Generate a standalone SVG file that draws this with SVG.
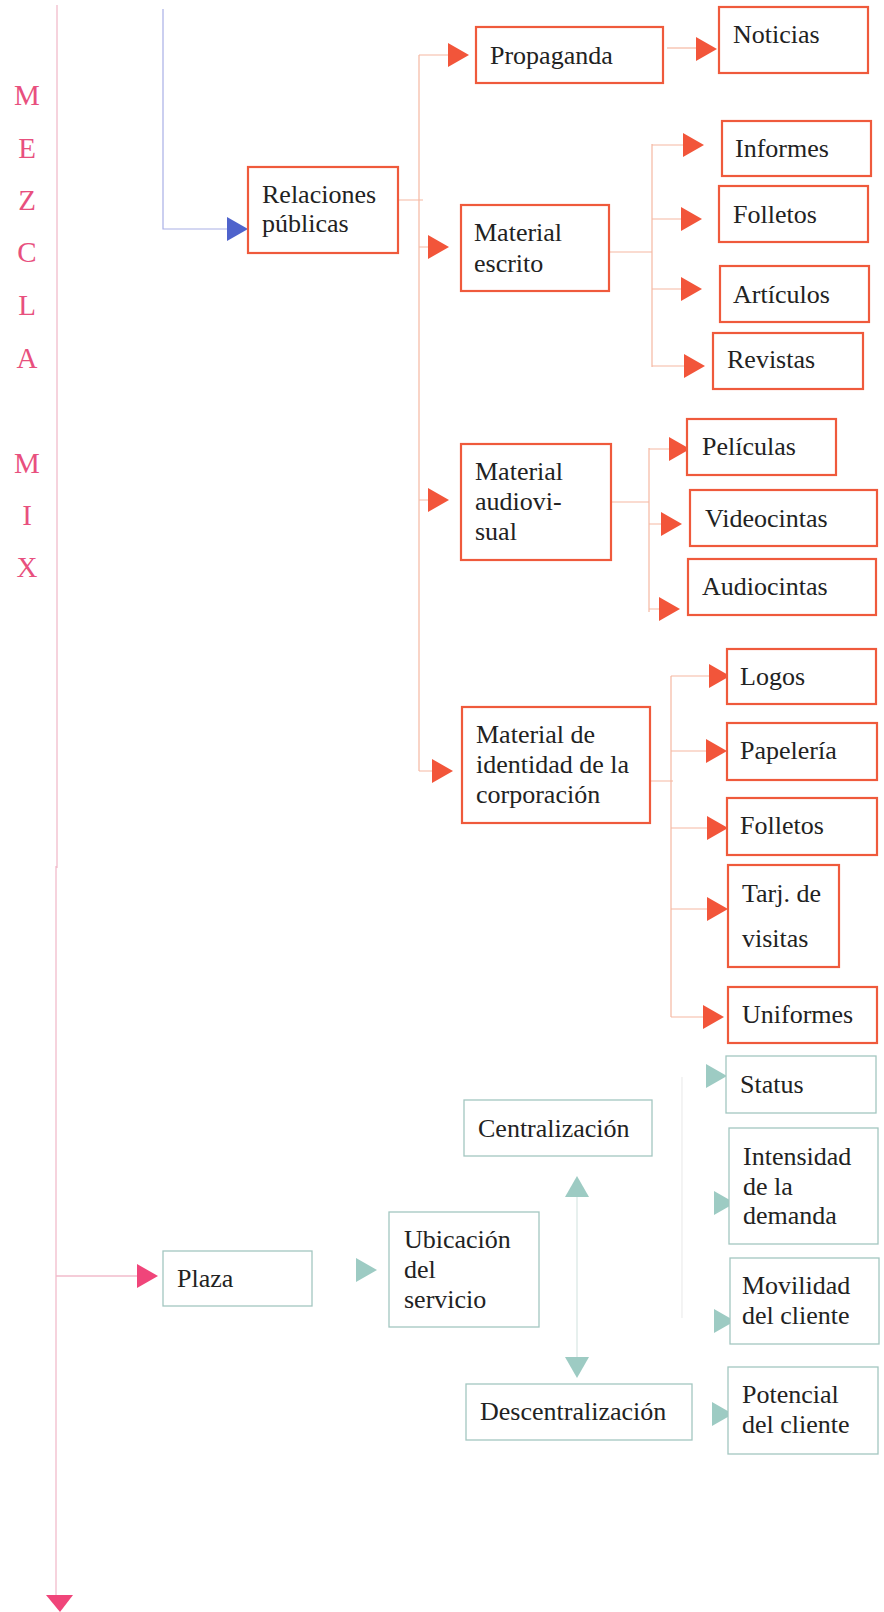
<svg xmlns="http://www.w3.org/2000/svg" width="884" height="1612" viewBox="0 0 884 1612">
  <style>
    text { font-family: "Liberation Serif", "Times New Roman", serif; font-size: 26px; fill: #222222; }
    .mix { fill: #e8507e; font-size: 29px; text-anchor: middle; }
    .red rect { fill: #ffffff; stroke: #ef5a3c; stroke-width: 2.2; }
    .teal rect { fill: #ffffff; stroke: #a3c7c1; stroke-width: 1.3; }
    .ln-red { stroke: #f5b8a2; stroke-width: 1.2; fill: none; }
    .ln-blue { stroke: #a9b0e6; stroke-width: 1.2; fill: none; }
    .ln-pink { stroke: #f2bccb; stroke-width: 1.3; fill: none; }
    .ln-teal { stroke: #d7e6e3; stroke-width: 1.2; fill: none; }
    .ln-gray { stroke: #ececec; stroke-width: 1.2; fill: none; }
    .ah-red { fill: #f2553a; }
    .ah-blue { fill: #4f63cc; }
    .ah-pink { fill: #f0457a; }
    .ah-teal { fill: #9dcbc3; }
  </style>
  <defs>
    <!-- arrowhead with its tip at the origin, pointing right -->
    <path id="tri" d="M-21,-12 L0,0 L-21,12 Z"/>
  </defs>

  <rect x="0" y="0" width="884" height="1612" fill="#ffffff"/>

  <!-- vertical title -->
  <g id="title">
    <text class="mix" x="27" y="105">M</text>
    <text class="mix" x="27" y="158">E</text>
    <text class="mix" x="27" y="210">Z</text>
    <text class="mix" x="27" y="262">C</text>
    <text class="mix" x="27" y="315">L</text>
    <text class="mix" x="27" y="368">A</text>
    <text class="mix" x="27" y="473">M</text>
    <text class="mix" x="27" y="525">I</text>
    <text class="mix" x="27" y="577">X</text>
  </g>

  <!-- connectors -->
  <g id="connectors">
    <!-- main axis -->
    <path class="ln-pink" d="M57,5 V868 M56,866 V1598 M56,1276 H140"/>
    <polygon class="ah-pink" points="46,1595 73,1595 60,1612"/>
    <use href="#tri" class="ah-pink" x="158" y="1276"/>

    <!-- entry into Relaciones públicas -->
    <path class="ln-blue" d="M163,9 V229 H230"/>
    <use href="#tri" class="ah-blue" x="248" y="229"/>

    <!-- Relaciones públicas branches -->
    <path class="ln-red" d="M398,200 H423 M419,55 V771 M419,55 H450 M419,247 H430 M419,500 H430 M419,771 H435"/>
    <use href="#tri" class="ah-red" x="469" y="55"/>
    <use href="#tri" class="ah-red" x="449" y="247"/>
    <use href="#tri" class="ah-red" x="449" y="500"/>
    <use href="#tri" class="ah-red" x="453" y="771"/>

    <!-- Propaganda -> Noticias -->
    <path class="ln-red" d="M667,48 H699"/>
    <use href="#tri" class="ah-red" x="717" y="49"/>

    <!-- Material escrito -->
    <path class="ln-red" d="M609,252 H652 M652,144 V367 M652,145 H685 M652,219 H684 M652,289 H684 M652,366 H687"/>
    <use href="#tri" class="ah-red" x="704" y="145"/>
    <use href="#tri" class="ah-red" x="702" y="219"/>
    <use href="#tri" class="ah-red" x="702" y="289"/>
    <use href="#tri" class="ah-red" x="705" y="366"/>

    <!-- Material audiovisual -->
    <path class="ln-red" d="M611,502 H649 M649,448 V612 M649,449 H673 M649,524 H663 M649,609 H661"/>
    <use href="#tri" class="ah-red" x="690" y="449"/>
    <use href="#tri" class="ah-red" x="682" y="524"/>
    <use href="#tri" class="ah-red" x="680" y="609"/>

    <!-- Material de identidad de la corporación -->
    <path class="ln-red" d="M650,781 H673 M671,676 V1017 M671,676 H713 M671,751 H709 M671,828 H711 M671,909 H709 M671,1017 H705"/>
    <use href="#tri" class="ah-red" x="730" y="676"/>
    <use href="#tri" class="ah-red" x="727" y="751"/>
    <use href="#tri" class="ah-red" x="728" y="828"/>
    <use href="#tri" class="ah-red" x="728" y="909"/>
    <use href="#tri" class="ah-red" x="724" y="1017"/>

    <!-- Plaza section -->
    <use href="#tri" class="ah-teal" x="377" y="1270"/>
    <path class="ln-teal" d="M577,1192 V1361"/>
    <use href="#tri" class="ah-teal" transform="translate(577,1176) rotate(-90)"/>
    <use href="#tri" class="ah-teal" transform="translate(577,1378) rotate(90)"/>
    <path class="ln-gray" d="M682,1077 V1318"/>
    <use href="#tri" class="ah-teal" x="727" y="1076"/>
    <use href="#tri" class="ah-teal" x="735" y="1203"/>
    <use href="#tri" class="ah-teal" x="735" y="1321"/>
    <use href="#tri" class="ah-teal" x="733" y="1414"/>
  </g>

  <!-- red nodes -->
  <g id="relaciones" class="red"><rect x="248" y="167" width="150" height="86"/><text x="262" y="203">Relaciones</text><text x="262" y="232">públicas</text></g>
  <g id="propaganda" class="red"><rect x="476" y="27" width="187" height="56"/><text x="490" y="64">Propaganda</text></g>
  <g id="noticias" class="red"><rect x="719" y="7" width="149" height="66"/><text x="733" y="43">Noticias</text></g>
  <g id="material-escrito" class="red"><rect x="461" y="205" width="148" height="86"/><text x="474" y="241">Material</text><text x="474" y="272">escrito</text></g>
  <g id="informes" class="red"><rect x="722" y="121" width="149" height="55"/><text x="735" y="157">Informes</text></g>
  <g id="folletos-1" class="red"><rect x="719" y="186" width="149" height="56"/><text x="733" y="223">Folletos</text></g>
  <g id="articulos" class="red"><rect x="720" y="266" width="149" height="56"/><text x="733" y="303">Artículos</text></g>
  <g id="revistas" class="red"><rect x="713" y="333" width="150" height="56"/><text x="727" y="368">Revistas</text></g>
  <g id="material-audiovisual" class="red"><rect x="461" y="444" width="150" height="116"/><text x="475" y="480">Material</text><text x="475" y="510">audiovi-</text><text x="475" y="540">sual</text></g>
  <g id="peliculas" class="red"><rect x="687" y="419" width="149" height="56"/><text x="702" y="455">Películas</text></g>
  <g id="videocintas" class="red"><rect x="690" y="490" width="187" height="56"/><text x="705" y="527">Videocintas</text></g>
  <g id="audiocintas" class="red"><rect x="688" y="559" width="188" height="56"/><text x="702" y="595">Audiocintas</text></g>
  <g id="material-identidad" class="red"><rect x="462" y="707" width="188" height="116"/><text x="476" y="743">Material de</text><text x="476" y="773">identidad de la</text><text x="476" y="803">corporación</text></g>
  <g id="logos" class="red"><rect x="727" y="649" width="149" height="55"/><text x="740" y="685">Logos</text></g>
  <g id="papeleria" class="red"><rect x="727" y="723" width="150" height="57"/><text x="740" y="759">Papelería</text></g>
  <g id="folletos-2" class="red"><rect x="727" y="798" width="150" height="57"/><text x="740" y="834">Folletos</text></g>
  <g id="tarjetas" class="red"><rect x="728" y="865" width="111" height="102"/><text x="742" y="902">Tarj. de</text><text x="742" y="947">visitas</text></g>
  <g id="uniformes" class="red"><rect x="728" y="987" width="149" height="56"/><text x="742" y="1023">Uniformes</text></g>

  <!-- teal nodes -->
  <g id="plaza" class="teal"><rect x="163" y="1251" width="149" height="55"/><text x="177" y="1287">Plaza</text></g>
  <g id="ubicacion" class="teal"><rect x="389" y="1212" width="150" height="115"/><text x="404" y="1248">Ubicación</text><text x="404" y="1278">del</text><text x="404" y="1308">servicio</text></g>
  <g id="centralizacion" class="teal"><rect x="464" y="1100" width="188" height="56"/><text x="478" y="1137">Centralización</text></g>
  <g id="descentralizacion" class="teal"><rect x="466" y="1384" width="226" height="56"/><text x="480" y="1420">Descentralización</text></g>
  <g id="status" class="teal"><rect x="726" y="1056" width="150" height="57"/><text x="740" y="1093">Status</text></g>
  <g id="intensidad" class="teal"><rect x="729" y="1128" width="149" height="116"/><text x="743" y="1165">Intensidad</text><text x="743" y="1195">de la</text><text x="743" y="1224">demanda</text></g>
  <g id="movilidad" class="teal"><rect x="730" y="1258" width="149" height="86"/><text x="742" y="1294">Movilidad</text><text x="742" y="1324">del cliente</text></g>
  <g id="potencial" class="teal"><rect x="728" y="1367" width="150" height="87"/><text x="742" y="1403">Potencial</text><text x="742" y="1433">del cliente</text></g>
</svg>
